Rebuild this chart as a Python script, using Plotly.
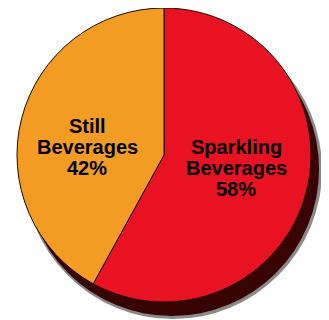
import plotly.graph_objects as go

names = ["Sparkling", "Still"]
labels = ["Sparkling Beverages", "Still Beverages"]
values = [58, 42]
colors = ["#e81222", "#f29c24"]
label_x = [236, 87]
label_y = [168, 147]

W, H = 329, 320
OFF = 8  # page body margin compensation
LINE = 21

def dom(cx, cy, r):
    cx -= OFF
    cy -= OFF
    return dict(x=[max(0, (cx - r) / W), min(1, (cx + r) / W)],
                y=[max(0, 1 - (cy + r) / H), min(1, 1 - (cy - r) / H)])

fig = go.Figure()
# shadow
fig.add_trace(go.Pie(values=[1], labels=["s1"], sort=False, textinfo="none", hoverinfo="skip",
                     marker=dict(colors=["#8a8a8a"], line=dict(width=0)),
                     domain=dom(173, 170, 149), showlegend=False))
fig.add_trace(go.Pie(values=[1], labels=["s2"], sort=False, textinfo="none", hoverinfo="skip",
                     marker=dict(colors=["#380303"], line=dict(width=0)),
                     domain=dom(172, 169, 147), showlegend=False))
# main pie
fig.add_trace(go.Pie(labels=labels, values=values, sort=False, direction="counterclockwise",
                     rotation=0, textinfo="none", hoverinfo="label+percent",
                     marker=dict(colors=colors, line=dict(color="#1a0a00", width=1)),
                     domain=dom(164, 155, 147), showlegend=False))

total = sum(values)
for lab, v, x, y in zip(labels, values, label_x, label_y):
    lines = lab.split(" ") + [f"{round(100 * v / total)}%"]
    for i, ln in enumerate(lines):
        yy = y + (i - 1) * LINE
        fig.add_annotation(x=(x - OFF) / W, y=1 - (yy - OFF) / H, xref="paper", yref="paper",
                           xanchor="center", yanchor="middle",
                           text=f"<b>{ln}</b>", showarrow=False,
                           font=dict(family="Liberation Sans, Arial", size=20, color="black"))

fig.update_layout(width=W, height=H, margin=dict(l=0, r=0, t=0, b=0),
                  paper_bgcolor="white", plot_bgcolor="white", showlegend=False)
fig.write_html("out.html")
